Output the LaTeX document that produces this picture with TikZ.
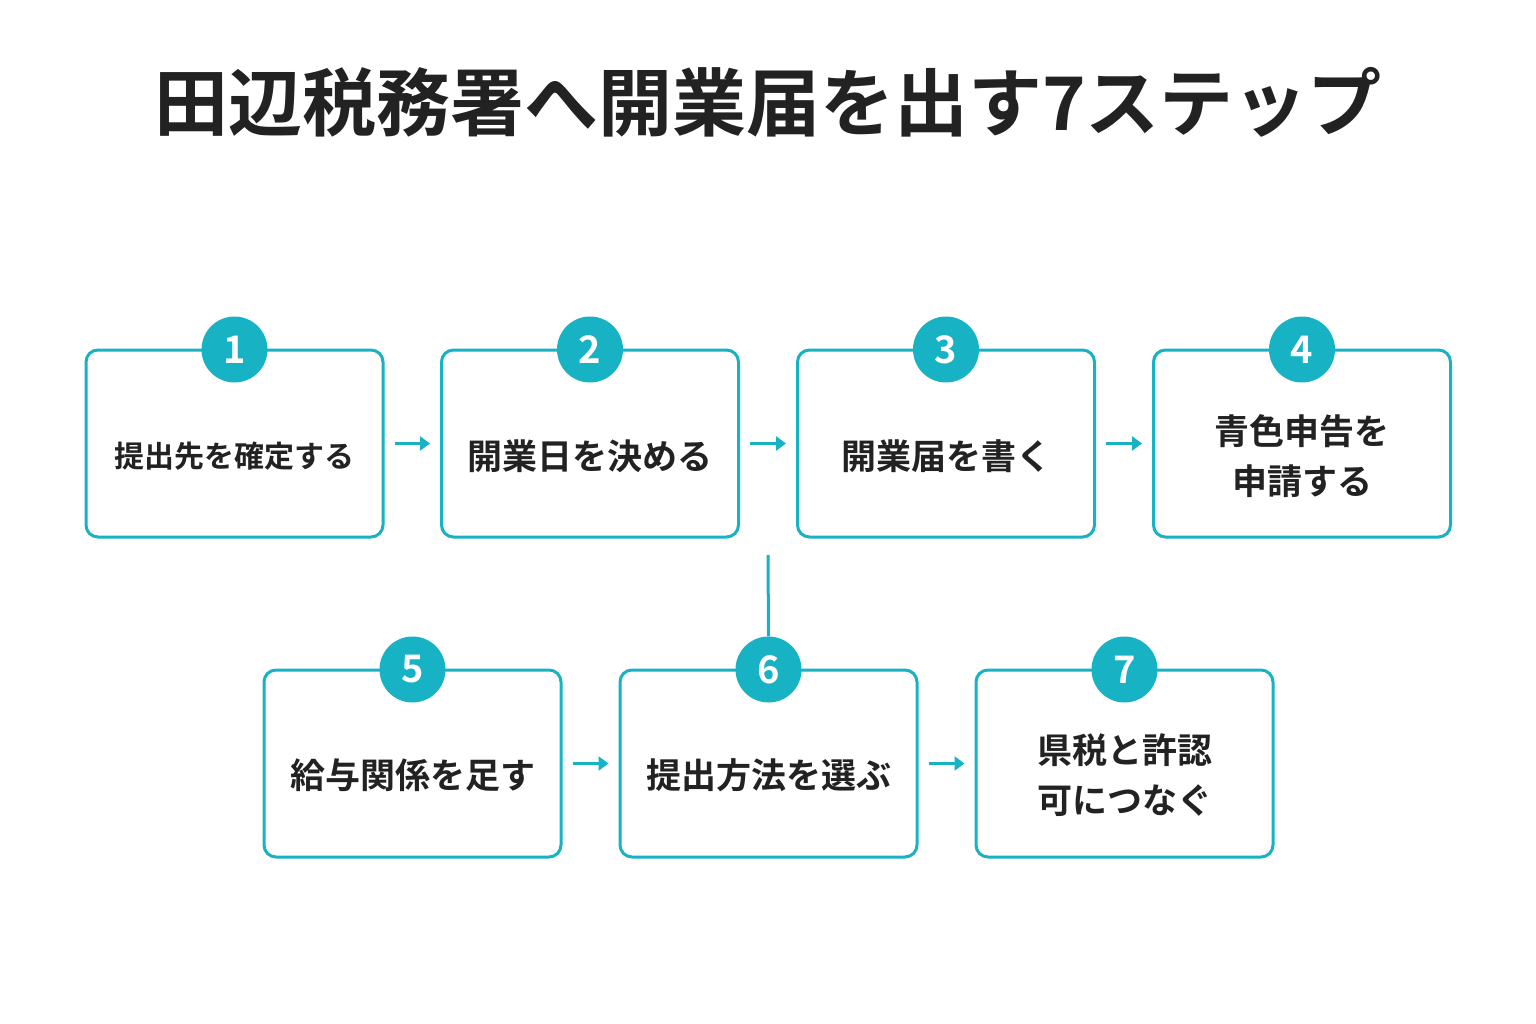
\documentclass[tikz,border=0pt]{standalone}
\usepackage{fontspec}
\setmainfont{Noto Sans CJK JP}[BoldFont={* Bold}]
\newfontfamily\cjkb{Noto Sans CJK JP Bold}
\usetikzlibrary{arrows.meta}
\definecolor{tl}{HTML}{17B2C4}
\definecolor{ink}{HTML}{222222}
\tikzset{x=1pt,y=-1pt,
 box/.style={draw=tl,line width=3pt,rounded corners=12pt,minimum width=297pt,minimum height=187pt,fill=white},
 num/.style={circle,fill=tl,minimum size=66pt,inner sep=0pt,text=white,font=\fontsize{38}{40}\selectfont\bfseries},
 lab/.style={text=ink,align=center,font=\fontsize{35}{50}\selectfont\cjkb},
 arr/.style={draw=tl,line width=3pt,-{Triangle[length=10pt,width=14pt]}}}
\begin{document}
\begin{tikzpicture}
\useasboundingbox (0,0) rectangle (1536,1024);
\node[text=ink,font=\fontsize{74}{80}\selectfont\cjkb] (title) at (768,102) {田辺税務署へ開業届を出す7ステップ};
\foreach \n/\x/\y in {1/234.5/443.5,2/590/443.5,3/946/443.5,4/1302/443.5,5/412.5/763.5,6/768.5/763.5,7/1124.5/763.5}{
 \node[box] (b\n) at (\x,\y) {};
 \node[num] (c\n) at (\x,\y-94) {\n};
}
\node[lab,font=\fontsize{30}{40}\selectfont\cjkb] (t1) at (234.5,456) {提出先を確定する};
\node[lab] (t2) at (590,456) {開業日を決める};
\node[lab] (t3) at (946,456) {開業届を書く};
\node[lab] (t4) at (1302,456) {青色申告を\\申請する};
\node[lab] (t5) at (412.5,775) {給与関係を足す};
\node[lab] (t6) at (768.5,775) {提出方法を選ぶ};
\node[lab] (t7) at (1124.5,775) {県税と許認\\可につなぐ};
\foreach \a/\b in {1/2,2/3,3/4,5/6,6/7}{
 \draw[arr] ([xshift=10pt,yshift=0pt]b\a.east) -- ([xshift=-10pt]b\b.west);
}
\coordinate (vtop) at (768,555);
\draw[tl,line width=3pt] (vtop) -- (c6.north);
\end{tikzpicture}
\end{document}
